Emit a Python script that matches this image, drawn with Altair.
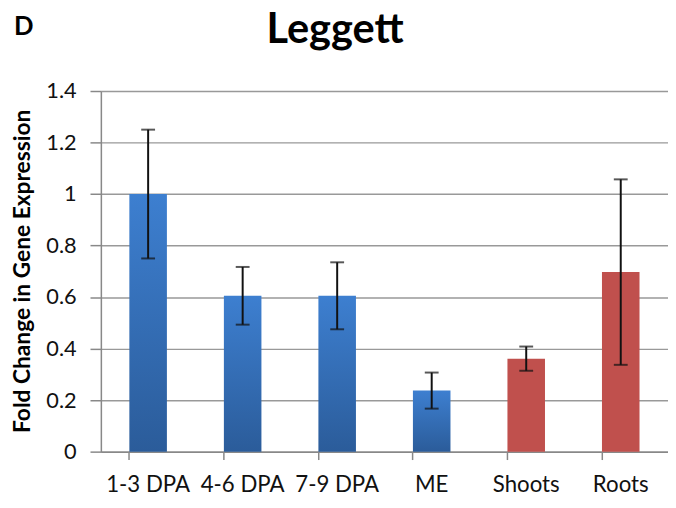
import altair as alt
import pandas as pd

categories = ["1-3 DPA", "4-6 DPA", "7-9 DPA", "ME", "Shoots", "Roots"]
values = [1.0, 0.605, 0.605, 0.237, 0.361, 0.697]
errors = [0.25, 0.112, 0.13, 0.07, 0.047, 0.36]
groups = ["seed", "seed", "seed", "seed", "plant", "plant"]

df = pd.DataFrame({"cat": categories, "val": values, "err": errors, "grp": groups})
df["lo"] = df["val"] - df["err"]
df["hi"] = df["val"] + df["err"]

FONT = "Lato"

x_enc = alt.X("cat:N", sort=categories, title=None,
              scale=alt.Scale(paddingInner=0.6, paddingOuter=0.3),
              axis=alt.Axis(labelAngle=0, labelFontSize=22.5, labelFont=FONT, labelColor="#111",
                            domainColor="#888", domainWidth=1.5, tickColor="#888", tickWidth=1.5,
                            tickSize=8, bandPosition=0, labelPadding=14))
y_enc = alt.Y("val:Q", title="Fold Change in Gene Expression",
              scale=alt.Scale(domain=[0, 1.4], nice=False),
              axis=alt.Axis(values=[0, 0.2, 0.4, 0.6, 0.8, 1.0, 1.2, 1.4], format="~g",
                            labelFontSize=22, labelFont=FONT, labelColor="#111", labelPadding=14,
                            domainColor="#888", domainWidth=1.5, tickColor="#888", tickWidth=1.5,
                            tickSize=11, gridColor="#999", gridWidth=1.5,
                            titleFont=FONT, titleFontSize=23, titleFontWeight="bold",
                            titleColor="#000", titleX=-79, titleY=182,
                            titleAlign="center", titleBaseline="middle", titleAngle=270))

base = alt.Chart(df)

blue = base.transform_filter(alt.datum.grp == "seed").mark_bar(
    color=alt.Gradient(gradient="linear", x1=0, x2=0, y1=0, y2=1,
                       stops=[alt.GradientStop(color="#3d7fd0", offset=0),
                              alt.GradientStop(color="#2b5c9a", offset=1)]),
    size=38).encode(x=x_enc, y=y_enc)

red = base.transform_filter(alt.datum.grp == "plant").mark_bar(
    color="#c0504d", size=38).encode(x=x_enc, y=y_enc)

err = base.mark_rule(color="#111", strokeWidth=2).encode(
    x=alt.X("cat:N", sort=categories), y="lo:Q", y2="hi:Q")
cap_hi = base.mark_tick(color="#111", thickness=2, size=14, orient="horizontal").encode(
    x=alt.X("cat:N", sort=categories), y="hi:Q")
cap_lo = base.mark_tick(color="#111", thickness=2, size=14, orient="horizontal").encode(
    x=alt.X("cat:N", sort=categories), y="lo:Q")

label_d = alt.Chart(pd.DataFrame({"t": ["D"]})).mark_text(
    font=FONT, fontSize=26, fontWeight="bold", align="left", baseline="alphabetic", color="#000"
).encode(text="t:N", x=alt.value(-88), y=alt.value(-57))

label_title = alt.Chart(pd.DataFrame({"t": ["Leggett"]})).mark_text(
    font=FONT, fontSize=42, fontWeight="bold", align="center", baseline="alphabetic", color="#000"
).encode(text="t:N", x=alt.value(237), y=alt.value(-49))

chart = alt.layer(blue, red, err, cap_hi, cap_lo, label_d, label_title).properties(
    width=574, height=365,
    padding={"left": 94, "top": 81, "right": 0, "bottom": 52},
    autosize=alt.AutoSizeParams(type="none"),
).configure_view(stroke=None).configure(background="white")

chart.save("out.html", embed_options={"renderer": "svg", "actions": False})
